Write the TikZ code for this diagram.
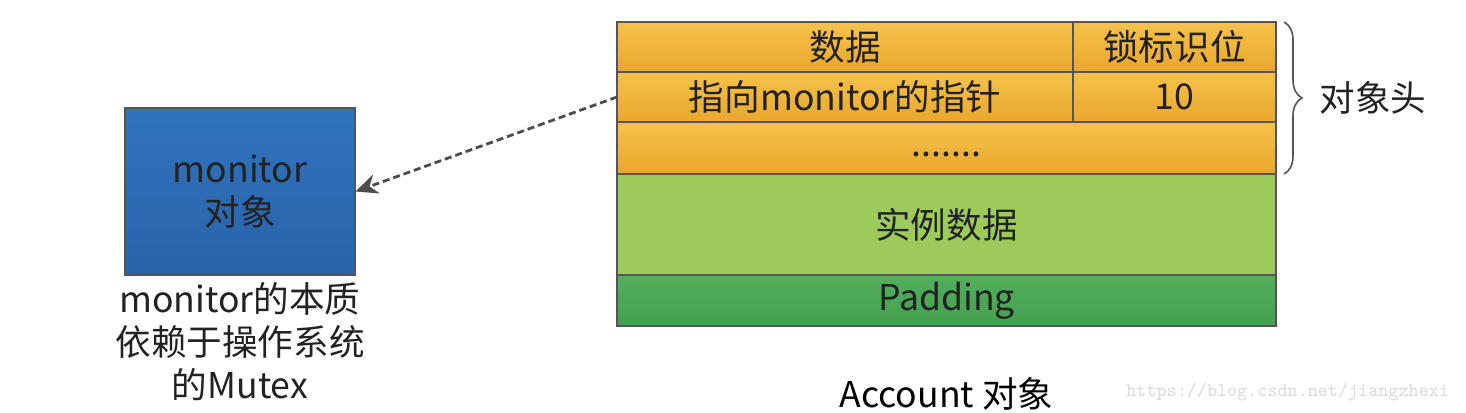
\documentclass[tikz,border=0pt]{standalone}
\usepackage{fontspec}
\setmainfont{Noto Sans CJK SC}
\usepackage{tikz}
\usetikzlibrary{arrows.meta,positioning,decorations.pathreplacing}
\usepackage{xcolor}
\definecolor{hdrtop}{HTML}{F6C24C}
\definecolor{hdrbot}{HTML}{E9A72C}
\definecolor{inst}{HTML}{9CCB5C}
\definecolor{padtop}{HTML}{52AF5C}
\definecolor{padbot}{HTML}{45A050}
\definecolor{montop}{HTML}{3173BE}
\definecolor{monbot}{HTML}{2963AA}
\definecolor{edge}{HTML}{555555}
\definecolor{ink}{HTML}{222222}

\tikzset{
  cell/.style={draw=edge, line width=0.6pt, inner sep=0pt, outer sep=0pt, anchor=north west, text=ink},
  hdrcell/.style={cell, top color=hdrtop, bottom color=hdrbot},
  big/.style={font=\fontsize{17.8}{21.5}\selectfont}
}

\begin{document}
\begin{tikzpicture}[x=0.5pt, y=-0.5pt, big]
  \useasboundingbox (0,0) rectangle (1466,412);

  % object header
  \node[hdrcell, minimum width=228pt, minimum height=25pt] (data) at (617,22) {数据};
  \node[hdrcell, minimum width=101.5pt, minimum height=25pt] (lock) at (1073,22) {锁标识位};
  \node[hdrcell, minimum width=228pt, minimum height=25pt] (ptr) at (617,72) {指向monitor的指针};
  \node[hdrcell, minimum width=101.5pt, minimum height=25pt] (bits) at (1073,72) {10};
  \node[hdrcell, minimum width=329.5pt, minimum height=26pt, text height=8pt, text depth=0pt] (more) at (617,122) {.......};
  % body
  \node[cell, fill=inst, minimum width=329.5pt, minimum height=50.5pt] (inst) at (617,174) {实例数据};
  \node[cell, top color=padtop, bottom color=padbot, minimum width=329.5pt, minimum height=25.5pt] (pad) at (617,275) {Padding};
  \node[below=22pt of pad] (acct) {Account 对象};

  \draw[decorate, decoration={brace, amplitude=9pt}, edge, line width=0.8pt]
    ([xshift=4pt]lock.north east) -- ([xshift=4pt]more.south east)
    node[midway, right=14pt, text=ink] (hdrlbl) {对象头};

  % monitor
  \node[draw=edge, line width=0.6pt, top color=montop, bottom color=monbot, text=ink,
        minimum width=115pt, minimum height=83.5pt, align=center] (mon) at (240,191.5) {monitor\\对象};
  \node[below=0pt of mon, align=center, text=ink] (note) {monitor的本质\\依赖于操作系统\\的Mutex};

  \draw[dashed, dash pattern=on 3.5pt off 2pt, line width=1.4pt, black!70,
        -{Stealth[length=11pt, width=10pt]}] (ptr.west) -- (mon.east);

  \node[anchor=east, text=black!15, font=\ttfamily\fontsize{9.6}{12}\selectfont] (wm) at (1456,392) {https://blog.csdn.net/jiangzhexi};
\end{tikzpicture}
\end{document}
